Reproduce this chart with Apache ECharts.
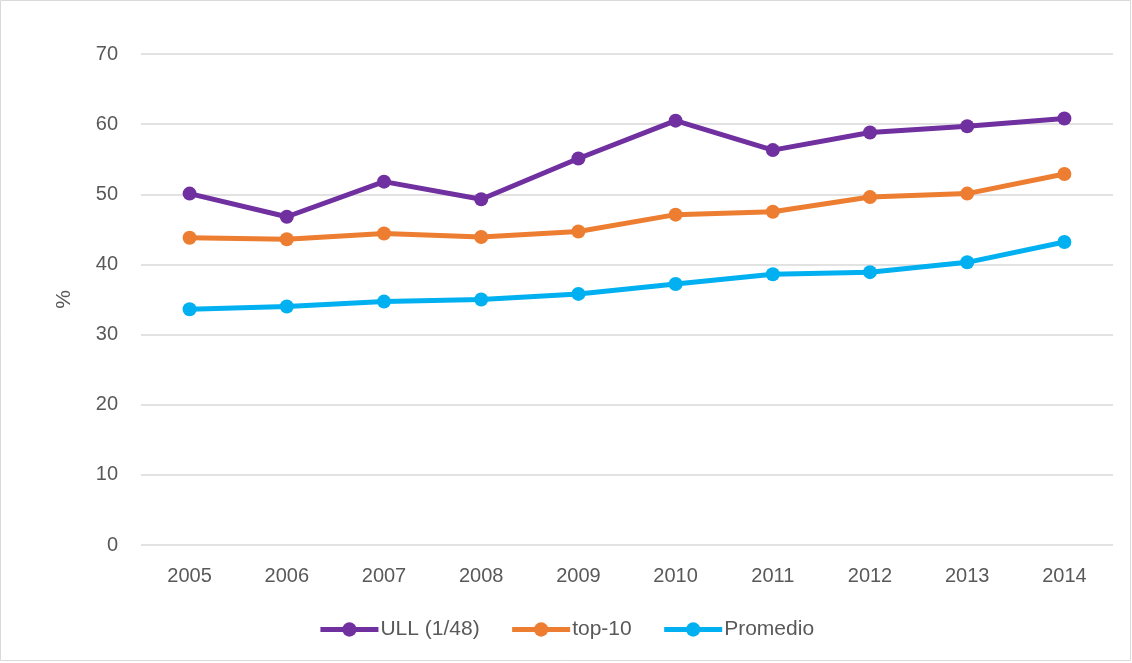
<html>
<head>
<meta charset="utf-8" />
<script src='https://cdn.jsdelivr.net/npm/echarts@6/dist/echarts.min.js'></script>
<style type="text/css">
	html, body, #main {
	width: 100%;
	height: 100%;
	margin: 0;
}
</style>
</head>
<body>

	<div id='main'></div>
	<script>
		var chart = echarts.init(document.getElementById('main'));

		var years = ['2005', '2006', '2007', '2008', '2009', '2010', '2011', '2012', '2013', '2014'];
		var ull = [50.1, 46.8, 51.8, 49.3, 55.1, 60.5, 56.3, 58.8, 59.7, 60.8];
		var top10 = [43.8, 43.6, 44.4, 43.9, 44.7, 47.1, 47.5, 49.6, 50.1, 52.9];
		var promedio = [33.6, 34.0, 34.7, 35.0, 35.8, 37.2, 38.6, 38.9, 40.3, 43.2];

		var font = 'Liberation Sans';
		var textColor = '#595959';

		function line(name, data, color) {
			return {
				name : name,
				type : 'line',
				data : data,
				symbol : 'circle',
				symbolSize : 14,
				lineStyle : { width : 5, color : color },
				itemStyle : { color : color },
				animation : false
			};
		}

		var option = {
			graphic : [ {
				type : 'rect',
				shape : { x : 0.5, y : 0.5, width : 1130, height : 660 },
				style : { fill : 'none', stroke : '#d9d9d9', lineWidth : 1 }
			} ],
			grid : { left : 141, right : 19, top : 54, bottom : 118 },
			legend : {
				bottom : 18,
				left : 'center',
				itemWidth : 58,
				itemHeight : 18,
				itemGap : 30,
				lineStyle : { width : 5 },
				textStyle : { fontFamily : font, fontSize : 21, color : textColor, padding : [0, 0, 0, -3] },
				data : [ 'ULL (1/48)', 'top-10', 'Promedio' ]
			},
			xAxis : {
				type : 'category',
				data : years,
				boundaryGap : true,
				axisLine : { show : false },
				axisTick : { show : false },
				axisLabel : { margin : 21, fontFamily : font, fontSize : 20, color : textColor }
			},
			yAxis : {
				type : 'value',
				min : 0,
				max : 70,
				interval : 10,
				name : '%',
				nameLocation : 'middle',
				nameGap : 66,
				nameTextStyle : { fontFamily : font, fontSize : 21, color : textColor },
				axisLine : { show : false },
				axisTick : { show : false },
				axisLabel : { margin : 23, fontFamily : font, fontSize : 20, color : textColor },
				splitLine : { lineStyle : { color : '#d9d9d9', width : 1.5 } }
			},
			series : [
				line('ULL (1/48)', ull, '#7030A0'),
				line('top-10', top10, '#ED7D31'),
				line('Promedio', promedio, '#00B0F0')
			]
		};

		chart.setOption(option);

		window.onresize = function() {
			chart.resize();
		}
	</script>
</body>
</html>
